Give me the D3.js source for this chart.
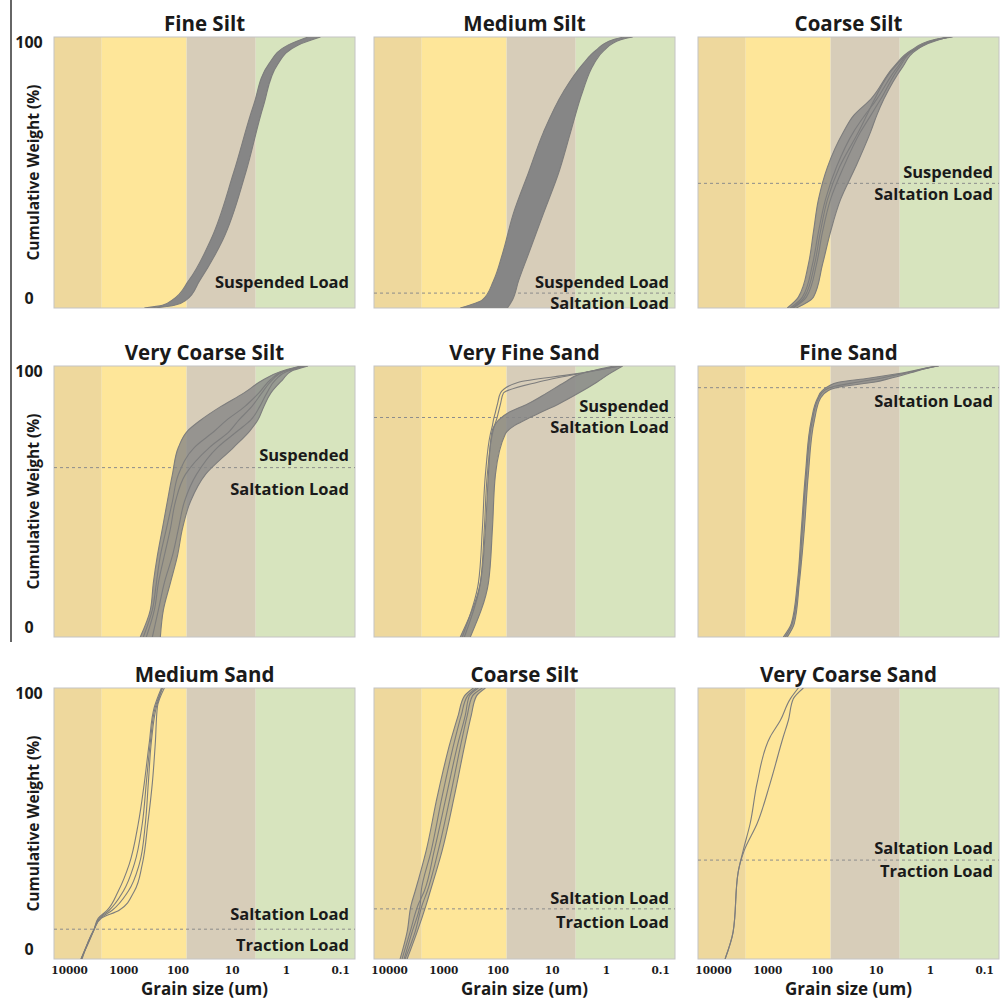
<!DOCTYPE html>
<html>
<head>
<meta charset="utf-8">
<script src="https://cdnjs.cloudflare.com/ajax/libs/d3/7.8.5/d3.min.js"></script>
<style>
body { margin: 0; background: #fff; }
text { font-family: "Open Sans", Lato, sans-serif; font-weight: 700; fill: #1a1a1a; }
</style>
</head>
<body>
<div id="chart-area"></div>
<script>
// ---- data ----
var panelTitles = ["Fine Silt", "Medium Silt", "Coarse Silt", "Very Coarse Silt", "Very Fine Sand",
    "Fine Sand", "Medium Sand", "Coarse Silt", "Very Coarse Sand"];
var xDomain = [19000, 0.053];              // grain size (um), coarse on the left
var bandEdges = [2500, 68, 3.6];            // gravel | sand | silt | clay
var xTickValues = [10000, 1000, 100, 10, 1, 0.1];
var yTickValues = [0, 100];

// load boundaries (cumulative %), null = no dashed line
var divideLevels = [null, 5.5, 46, 62.5, 81, 92, 11, 18.5, 36.5];
var upperLabels = ["Suspended Load", "Suspended Load", "Suspended", "Suspended", "Suspended", "",
    "Saltation Load", "Saltation Load", "Saltation Load"];
var lowerLabels = ["", "Saltation Load", "Saltation Load", "Saltation Load", "Saltation Load",
    "Saltation Load", "Traction Load", "Traction Load", "Traction Load"];

// each curve: grain size (um) reached at the given cumulative percent levels
var fineSiltPct = [0, 1, 3, 10, 25, 50, 75, 90, 97, 100];
var fineSiltCoarse = [409, 190, 124, 62.7, 24.5, 9.2, 3.92, 2.07, 0.92, 0.39];
var fineSiltFine = [267, 114, 68.3, 39.2, 14.7, 5.5, 2.56, 1.41, 0.60, 0.23];

var medSiltPct = [0, 3, 10, 20, 35, 50, 65, 80, 90, 95, 99, 100];
var medSiltCoarse = [486, 190, 119, 81, 50.7, 26.7, 14.1, 6.0, 2.67, 1.54, 0.74, 0.47];
var medSiltFine = [65.5, 52.9, 40.9, 26.7, 14.1, 7.4, 4.46, 2.67, 1.67, 1.09, 0.53, 0.32];

var coarseSiltPct = [0, 4, 16, 28, 40, 52, 65, 71, 77, 89, 95, 99, 100];
var coarseSiltCoarse = [427, 267, 175, 141, 114, 77.6, 39.2, 25.6, 12.4, 4.65, 2.25, 0.85, 0.47];
var coarseSiltFine = [291, 141, 96, 68.3, 44.6, 23.5, 12.4, 9.6, 7.1, 3.17, 1.82, 0.71, 0.38];
var coarseSiltA = [376, 225, 147, 114, 84.5, 52.9, 25.6, 16.0, 9.6, 3.92, 2.07, 0.74, 0.45];
var coarseSiltB = [331, 190, 124, 96, 68.3, 39.2, 19.0, 12.4, 8.1, 3.6, 1.98, 0.68, 0.43];
var coarseSiltC = [345, 207, 135, 105, 77.6, 46.5, 20.7, 14.7, 10.5, 4.46, 2.07, 0.78, 0.41];

var vcSiltPct = [0, 10, 20, 30, 40, 50, 60, 70, 76, 80, 85, 90, 95, 98, 100];
var vcSiltCoarse = [486, 317, 279, 235, 190, 154, 124, 96, 65.5, 37.6, 16.0, 6.0, 2.56, 1.24, 0.53];
var vcSiltFine = [207, 182, 135, 100, 81, 57.6, 30.4, 9.2, 4.65, 3.31, 2.56, 1.90, 1.14, 0.81, 0.39];
var vcSiltA = [376, 267, 225, 175, 135, 109, 71.3, 25.6, 10.9, 7.4, 4.27, 2.79, 1.75, 1.09, 0.45];
var vcSiltB = [427, 291, 245, 207, 160, 124, 96, 48.6, 20.7, 12.4, 5.76, 3.17, 1.90, 1.14, 0.49];
var vcSiltC = [291, 225, 175, 124, 96, 74.4, 44.6, 18.2, 7.8, 4.46, 3.04, 2.25, 1.54, 0.96, 0.43];

var vfSandPct = [0, 20, 40, 60, 75, 78, 80, 83, 86, 90, 94, 97, 100];
var vfSandCoarse = [486, 207, 167, 147, 129, 114, 96, 60.1, 27.9, 12.4, 5.76, 3.04, 0.71];
var vfSandFine = [317, 147, 124, 109, 71.3, 48.6, 31.7, 15.4, 7.4, 3.17, 1.47, 0.88, 0.49];
var vfSandX = [446, 225, 190, 167, 135, 124, 119, 109, 100, 88, 40.9, 3.92, 0.55];
var vfSandY = [409, 207, 175, 154, 124, 114, 105, 96, 88, 77.6, 18.2, 3.45, 0.53];

var fineSandPct = [0, 5, 20, 40, 60, 80, 88, 91, 92.5, 94, 95.5, 97.5, 99.3, 100];
var fineSandCoarse = [507, 360, 279, 235, 198, 154, 119, 96, 74.4, 48.6, 13.5, 3.04, 1.14, 0.74];
var fineSandFine = [427, 317, 256, 207, 175, 135, 105, 74.4, 39.2, 10.9, 5.29, 2.25, 1.05, 0.68];
var fineSandMid = [465, 345, 267, 225, 190, 147, 114, 88, 57.6, 22.5, 8.1, 2.67, 1.09, 0.71];

var medSandPct = [0, 11, 15, 18, 25, 35, 50, 65, 80, 93, 100];
var medSand1 = [6010, 3450, 2910, 1980, 1240, 776, 529, 409, 331, 267, 198];
var medSand2 = [6010, 3450, 2790, 1820, 1000, 627, 446, 376, 317, 256, 190];
var medSand3 = [6010, 3450, 2670, 1600, 810, 507, 392, 345, 304, 245, 190];
var medSand4 = [5760, 3450, 2560, 1190, 627, 446, 353, 291, 256, 235, 175];

var coarseSilt2Pct = [0, 10, 20, 25, 40, 60, 80, 90, 97, 100];
var coarseSilt2Coarse = [6270, 4650, 3920, 3310, 2070, 1290, 744, 529, 409, 279];
var coarseSilt2Fine = [4650, 3040, 2070, 1740, 1050, 627, 392, 304, 245, 167];
var coarseSilt2A = [5760, 4090, 2910, 2250, 1470, 882, 529, 392, 331, 225];
var coarseSilt2B = [5290, 3760, 2670, 2560, 1670, 1050, 627, 465, 360, 245];
var coarseSilt2C = [5070, 3310, 2450, 1980, 1240, 744, 465, 360, 291, 190];

var vcSandPct = [0, 10, 32, 40, 50, 65, 82, 88, 96, 100];
var vcSand1 = [6010, 4270, 3450, 2790, 2070, 1540, 882, 576, 376, 267];
var vcSand2 = [6010, 4270, 3450, 2670, 1540, 882, 507, 409, 331, 216];

var panels = [
    {pct: fineSiltPct, band: [fineSiltCoarse, fineSiltFine], bandOpacity: 1, lines: [fineSiltCoarse, fineSiltFine]},
    {pct: medSiltPct, band: [medSiltCoarse, medSiltFine], bandOpacity: 1, lines: [medSiltCoarse, medSiltFine]},
    {pct: coarseSiltPct, band: [coarseSiltCoarse, coarseSiltFine], bandOpacity: 0.8,
        lines: [coarseSiltCoarse, coarseSiltFine, coarseSiltA, coarseSiltB, coarseSiltC]},
    {pct: vcSiltPct, band: [vcSiltCoarse, vcSiltFine], bandOpacity: 0.8,
        lines: [vcSiltCoarse, vcSiltFine, vcSiltA, vcSiltB, vcSiltC]},
    {pct: vfSandPct, band: [vfSandCoarse, vfSandFine], bandOpacity: 0.85,
        lines: [vfSandCoarse, vfSandFine, vfSandX, vfSandY]},
    {pct: fineSandPct, band: [fineSandCoarse, fineSandFine], bandOpacity: 0.8,
        lines: [fineSandCoarse, fineSandFine, fineSandMid]},
    {pct: medSandPct, band: null, lines: [medSand1, medSand2, medSand3, medSand4]},
    {pct: coarseSilt2Pct, band: [coarseSilt2Coarse, coarseSilt2Fine], bandOpacity: 0.5,
        lines: [coarseSilt2Coarse, coarseSilt2Fine, coarseSilt2A, coarseSilt2B, coarseSilt2C]},
    {pct: vcSandPct, band: null, lines: [vcSand1, vcSand2]}
];

// ---- layout ----
var colX = [54, 374, 698];
var rowY = [37, 366, 688];
var pw = 301, ph = 271;
var bandColors = ["#eed89d", "#fee699", "#d7cdb9", "#d7e4be"];
// label offsets from the dashed line (px): above, below
var labelOffsets = [[-5, 18], [-5, 16], [-5, 17], [-7, 27], [-5, 16], [-5, 19], [-9, 22], [-5, 19], [-6, 17]];

var svg = d3.select("#chart-area")
    .append("svg")
    .attr("width", 1002)
    .attr("height", 1007);

svg.append("defs").append("clipPath")
    .attr("id", "plot-clip")
    .append("rect")
    .attr("width", pw)
    .attr("height", ph);

var x = d3.scaleLog().domain(xDomain).range([0, pw]);
var y = d3.scaleLinear().domain([0, 100]).range([ph, 0]);

var line = d3.line()
    .curve(d3.curveMonotoneY)
    .x(d => x(d[0]))
    .y(d => y(d[1]));

var area = d3.area()
    .curve(d3.curveMonotoneY)
    .y(d => y(d[0]))
    .x0(d => x(d[1]))
    .x1(d => x(d[2]));

var bandStops = [xDomain[0]].concat(bandEdges, [xDomain[1]]);

// frame line on the left of the upper rows
svg.append("line")
    .attr("x1", 11).attr("x2", 11)
    .attr("y1", 0).attr("y2", 642)
    .attr("stroke", "#333")
    .attr("stroke-width", 1.5);

panels.forEach(function(p, i) {
    var col = i % 3, row = Math.floor(i / 3);
    var g = svg.append("g")
        .attr("transform", "translate(" + colX[col] + "," + rowY[row] + ")");

    g.selectAll("rect.band")
        .data(d3.pairs(bandStops))
        .enter()
        .append("rect")
        .attr("class", "band")
        .attr("x", d => x(d[0]))
        .attr("width", d => x(d[1]) - x(d[0]))
        .attr("y", 0)
        .attr("height", ph)
        .attr("fill", (d, j) => bandColors[j]);

    g.append("rect")
        .attr("width", pw)
        .attr("height", ph)
        .attr("fill", "none")
        .attr("stroke", "#c4c4c4");

    // load boundary
    var level = divideLevels[i];
    if (level !== null) {
        g.append("line")
            .attr("x1", 0).attr("x2", pw)
            .attr("y1", y(level)).attr("y2", y(level))
            .attr("stroke", "#8c8c8c")
            .attr("stroke-dasharray", "3,3");
    }

    var plot = g.append("g").attr("clip-path", "url(#plot-clip)");

    if (p.band) {
        var bandData = p.pct.map((v, k) => [v, p.band[0][k], p.band[1][k]]);
        plot.append("path")
            .attr("d", area(bandData))
            .attr("fill", "#868686")
            .attr("fill-opacity", p.bandOpacity);
    }

    plot.selectAll("path.curve")
        .data(p.lines)
        .enter()
        .append("path")
        .attr("class", "curve")
        .attr("d", sizes => line(sizes.map((s, k) => [s, p.pct[k]])))
        .attr("fill", "none")
        .attr("stroke", "#7d7d7d")
        .attr("stroke-width", 1.1);

    // labels
    var ly = level !== null ? y(level) : ph - 15;
    var off = labelOffsets[i];
    if (upperLabels[i]) {
        g.append("text")
            .attr("x", pw - 6)
            .attr("y", ly + off[0])
            .attr("text-anchor", "end")
            .style("font-size", "16.5px")
            .text(upperLabels[i]);
    }
    if (lowerLabels[i]) {
        g.append("text")
            .attr("x", pw - 6)
            .attr("y", ly + off[1])
            .attr("text-anchor", "end")
            .style("font-size", "16.5px")
            .text(lowerLabels[i]);
    }

    g.append("text")
        .attr("x", pw / 2)
        .attr("y", -6)
        .attr("text-anchor", "middle")
        .style("font-size", "20.5px")
        .text(panelTitles[i]);

    if (col === 0) {
        g.selectAll("text.ytick")
            .data(yTickValues)
            .enter()
            .append("text")
            .attr("class", "ytick")
            .attr("x", -25)
            .attr("y", d => y(d) + (d === 0 ? -4 : 11))
            .attr("text-anchor", "middle")
            .style("font-size", "16px")
            .text(d => d);

        g.append("text")
            .attr("transform", "translate(-15," + (ph / 2) + ") rotate(-90)")
            .attr("text-anchor", "middle")
            .style("font-size", "15.5px")
            .text("Cumulative Weight (%)");
    }

    if (row === 2) {
        var xAxis = d3.axisBottom(x)
            .tickValues(xTickValues)
            .tickSize(0)
            .tickPadding(8)
            .tickFormat(d => String(d));
        var ax = g.append("g")
            .attr("transform", "translate(0," + ph + ")")
            .call(xAxis);
        ax.select(".domain").remove();
        ax.selectAll("text")
            .style("font-family", "'DejaVu Serif', serif")
            .style("font-weight", "700")
            .style("font-size", "10.5px")
            .attr("fill", "#1a1a1a");

        g.append("text")
            .attr("x", pw / 2)
            .attr("y", ph + 36)
            .attr("text-anchor", "middle")
            .style("font-size", "17px")
            .text("Grain size (um)");
    }
});
</script>
</body>
</html>
